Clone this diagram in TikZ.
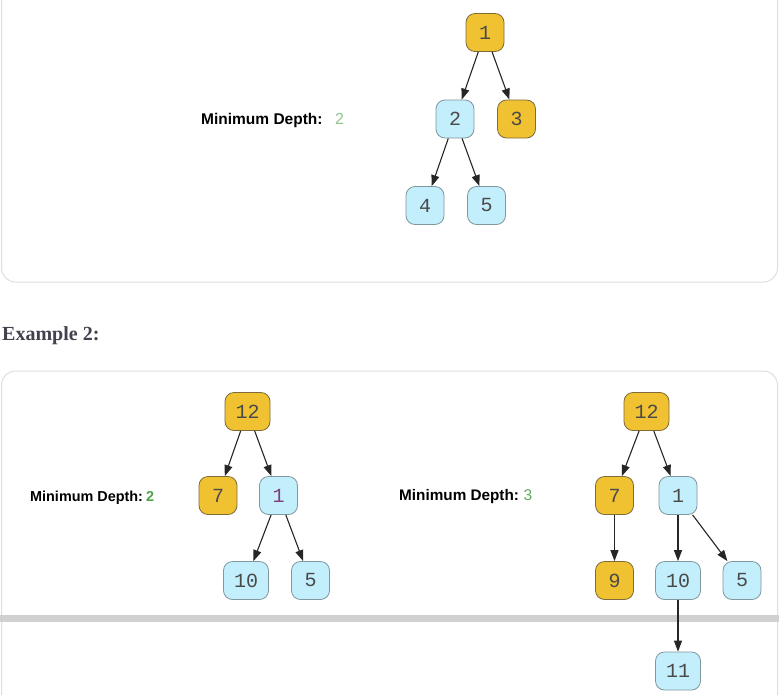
\documentclass[tikz,border=0pt]{standalone}
\usepackage{fontspec}
\setmainfont{Liberation Sans}
\newfontfamily\nodefont{Liberation Mono}
\newfontfamily\headfont{Liberation Serif}
\usetikzlibrary{arrows.meta}
\definecolor{gold}{HTML}{F0C131}
\definecolor{goldline}{HTML}{7D6B3A}
\definecolor{sky}{HTML}{C3EEFB}
\definecolor{skyline}{HTML}{7F979F}
\definecolor{nodetext}{HTML}{4A4A4A}
\definecolor{purpletext}{HTML}{7B3F7B}
\definecolor{edgecol}{HTML}{262626}
\definecolor{cardline}{HTML}{DEDEDE}
\definecolor{barcol}{HTML}{D0D0D0}
\definecolor{headcol}{HTML}{42424F}
\definecolor{greenA}{HTML}{8DC68A}
\definecolor{greenB}{HTML}{4FA24A}
\definecolor{greenC}{HTML}{62AA5F}
\tikzset{
  tnode/.style={rectangle, rounded corners=9pt, draw, line width=0.8pt,
    minimum width=38pt, minimum height=38pt, inner sep=0pt,
    font=\nodefont\fontsize{20}{20}\selectfont, text=nodetext},
  goldnode/.style={tnode, fill=gold, draw=goldline},
  bluenode/.style={tnode, fill=sky, draw=skyline},
  wide/.style={minimum width=45pt},
  link/.style={draw=edgecol, line width=1.1pt, -{Triangle[length=11pt,width=8pt]}},
  card/.style={draw=cardline, line width=1pt, rounded corners=14pt},
  lbl/.style={anchor=base west, inner sep=0pt, font=\bfseries\fontsize{15.5}{16}\selectfont},
  lblsmall/.style={anchor=base west, inner sep=0pt, font=\bfseries\fontsize{14.4}{16}\selectfont},
  numlbl/.style={anchor=base west, inner sep=0pt, font=\fontsize{16}{16}\selectfont},
  numlblsmall/.style={anchor=base west, inner sep=0pt, font=\bfseries\fontsize{14.4}{16}\selectfont}
}
\begin{document}
\begin{tikzpicture}[x=1pt,y=-1pt]
\useasboundingbox (0,0) rectangle (779,694);
\clip (0,0) rectangle (779,694);
\fill[white] (0,0) rectangle (779,694);
% cards
\draw[card] (1.5,-30) rectangle (777.5,282);
\draw[card] (1.5,371) rectangle (777.5,740);
\fill[barcol] (0,615) rectangle (779,621.5);
% heading
\node[anchor=base west, inner sep=0pt, text=headcol, font=\headfont\bfseries\fontsize{20}{20}\selectfont] (head) at (2,340.5) {Example 2:};
% labels
\node[lbl] (l1) at (201,124) {Minimum Depth:};
\node[numlbl, text=greenA] (l1n) at (335,124) {2};
\node[lblsmall] (l2) at (30,501.5) {Minimum Depth:};
\node[numlblsmall, text=greenB] (l2n) at (146,501.5) {2};
\node[lblsmall, font=\bfseries\fontsize{15.3}{16}\selectfont] (l3) at (399,500.5) {Minimum Depth:};
\node[numlbl, font=\fontsize{15.5}{16}\selectfont, text=greenC] (l3n) at (523.5,500.5) {3};
% tree 1
\node[goldnode] (a1) at (485,32.5) {1};
\node[bluenode] (a2) at (455,119) {2};
\node[goldnode] (a3) at (516.5,119) {3};
\node[bluenode] (a4) at (425,205.5) {4};
\node[bluenode] (a5) at (486.5,205.5) {5};
\draw[link] (a1) -- (a2);
\draw[link] (a1) -- (a3);
\draw[link] (a2) -- (a4);
\draw[link] (a2) -- (a5);
% tree 2 left
\node[goldnode, wide] (b12) at (247.5,411.5) {12};
\node[goldnode] (b7) at (218,495.5) {7};
\node[bluenode, text=purpletext] (b1) at (278.5,495.5) {1};
\node[bluenode, wide] (b10) at (246,580.5) {10};
\node[bluenode] (b5) at (310.5,580.5) {5};
\draw[link] (b12) -- (b7);
\draw[link] (b12) -- (b1);
\draw[link] (b1) -- (b10);
\draw[link] (b1) -- (b5);
% tree 2 right
\node[goldnode, wide] (c12) at (646.5,411.5) {12};
\node[goldnode] (c7) at (614.5,495.5) {7};
\node[bluenode] (c1) at (678,495.5) {1};
\node[goldnode] (c9) at (614.5,580.5) {9};
\node[bluenode, wide] (c10) at (678,580.5) {10};
\node[bluenode] (c5) at (742,580.5) {5};
\node[bluenode, wide] (c11) at (678,671) {11};
\draw[link] (c12) -- (c7);
\draw[link] (c12) -- (c1);
\draw[link] (c7) -- (c9);
\draw[link] (c1) -- (c10);
\draw[link] (c1) -- (c5);
\draw[link] (c10) -- (c11);
\end{tikzpicture}
\end{document}
